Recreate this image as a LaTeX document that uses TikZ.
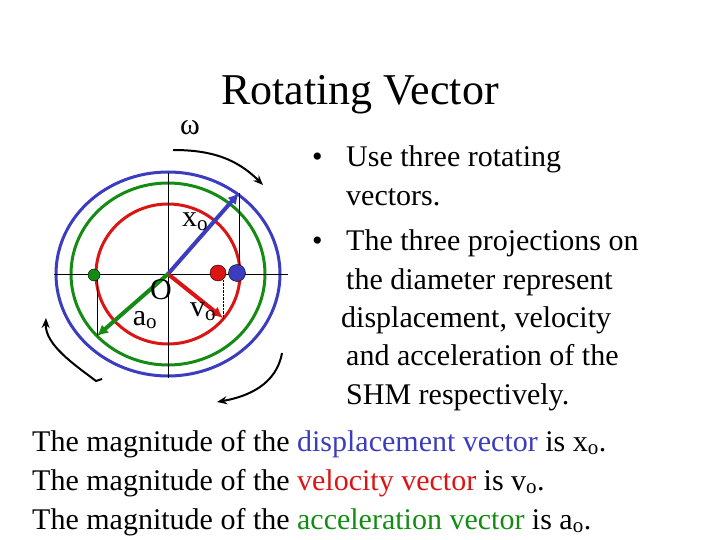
\documentclass[tikz,border=0pt]{standalone}
\usepackage{fontspec}
\setmainfont{Liberation Serif}
\definecolor{vblue}{RGB}{60,60,190}
\definecolor{vred}{RGB}{220,20,20}
\definecolor{vgreen}{RGB}{20,140,20}
\usetikzlibrary{arrows.meta}
\begin{document}
\begin{tikzpicture}[x=1pt,y=-1pt,
  txt/.style={anchor=base west,inner sep=0,font=\fontsize{30}{34}\selectfont},
  lbl/.style={inner sep=0,font=\fontsize{30}{34}\selectfont},
  vec/.style={line width=4pt,-{Latex[length=11pt,width=11pt]}},
  rot/.style={line width=2pt,-{Stealth[length=10pt,width=8pt]}}]
\useasboundingbox (0,0) rectangle (720,540);
\coordinate (c) at (168,274);
\draw[vblue,line width=3pt] (c) ellipse [x radius=112,y radius=102];
\draw[vgreen,line width=3pt] (c) ellipse [x radius=97,y radius=91];
\draw[vred,line width=3pt] (c) ellipse [x radius=72,y radius=70];
\coordinate (h1) at (54,274); \coordinate (h2) at (288,274);
\coordinate (v1) at (168,173); \coordinate (v2) at (168,378);
\draw (h1) -- (h2); \draw (v1) -- (v2);
\coordinate (bx) at (239,193); \coordinate (bxa) at (239,274);
\coordinate (rv) at (223,318); \coordinate (rva) at (223,274);
\coordinate (ga) at (97,336); \coordinate (gaa) at (97,274);
\draw (bx) -- (bxa);
\draw[densely dotted] (rv) -- (rva);
\draw (ga) -- (gaa);
\draw[vec,vblue] (c) -- (bx);
\draw[vec,vred] (c) -- (rv);
\draw[vec,vgreen] (c) -- (ga);
\node[circle,fill=vred,draw=black,line width=0.4pt,minimum size=16pt,inner sep=0] (rd) at (218,273) {};
\node[circle,fill=vblue,draw=black,line width=0.4pt,minimum size=17pt,inner sep=0] (bd) at (237,273) {};
\node[circle,fill=vgreen,draw=black,line width=0.4pt,minimum size=12pt,inner sep=0] (gd) at (94,275) {};
\node[lbl] (w) at (190,128) {ω};
\node[lbl] (xo) at (195,222) {x\textsubscript{o}};
\node[lbl] (o) at (161,290) {O};
\node[lbl] (ao) at (145,320) {a\textsubscript{o}};
\node[lbl] (vo) at (203,312) {v\textsubscript{o}};
\coordinate (t1) at (173,150); \coordinate (t2) at (263,185);
\draw[rot] (t1) to[out=0,in=135] (t2);
\coordinate (r1) at (282,353); \coordinate (r2) at (217,402);
\draw[rot] (r1) to[out=-100,in=10] (r2);
\coordinate (l1) at (102,379); \coordinate (l2) at (46,318);
\draw[rot] (l1) -- (96,381) .. controls (75,365) and (45,345) .. (l2);
\node[inner sep=0,font=\fontsize{44}{50}\selectfont] (title) at (360,95) {Rotating Vector};
\node[txt] (b1) at (312,167) {•};
\node[txt] (l1a) at (346,167) {Use three rotating};
\node[txt] (l1b) at (346,206) {vectors.};
\node[txt] (b2) at (312,251) {•};
\node[txt] (l2a) at (346,251) {The three projections on};
\node[txt] (l2b) at (346,289) {the diameter represent};
\node[txt] (l2c) at (341,327) {displacement, velocity};
\node[txt] (l2d) at (346,365) {and acceleration of the};
\node[txt] (l2e) at (346,404) {SHM respectively.};
\node[txt] (m1) at (32,451) {The magnitude of the \textcolor{vblue}{displacement vector} is x\textsubscript{o}.};
\node[txt] (m2) at (32,490) {The magnitude of the \textcolor{vred}{velocity vector} is v\textsubscript{o}.};
\node[txt] (m3) at (32,529) {The magnitude of the \textcolor{vgreen}{acceleration vector} is a\textsubscript{o}.};
\end{tikzpicture}
\end{document}
